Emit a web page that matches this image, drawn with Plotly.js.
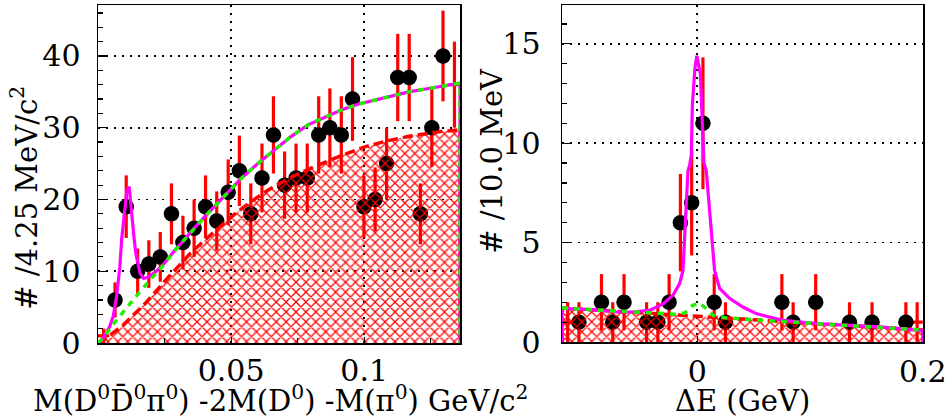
<!DOCTYPE html>
<html><head><meta charset="utf-8">
<script src="https://cdn.plot.ly/plotly-3.0.1.min.js"></script>
<style>html,body{margin:0;padding:0;background:#fff}</style>
</head><body><div id="chart" style="width:946px;height:418px"></div>
<script>
// ---------- Left panel: M(D0 D0bar pi0) - 2M(D0) - M(pi0) ----------
const massX = [0.0021,0.0064,0.0106,0.0149,0.0191,0.0234,0.0276,0.0319,0.0361,0.0404,0.0446,0.0489,0.0531,0.0574,0.0616,0.0659,
               0.0701,0.0744,0.0786,0.0829,0.0871,0.0914,0.0956,0.0999,0.1041,0.1084,0.1126,0.1169,0.1211,0.1254,0.1296,0.1339];
const massCounts = [1,6,19,10,11,12,18,14,16,19,17,21,24,18,23,29,22,23,23,29,30,29,34,19,20,25,37,37,18,30,40,36];
const massHalfBin = 0.002125;

const massTotX = [0,0.0013,0.0044,0.0057,0.0070,0.0082,0.0089,0.0101,0.0108,0.0117,0.0123,0.0129,0.0135,0.0142,0.0152,0.0158,0.0171,0.0189,0.0215,0.0240,
                  0.0284,0.0328,0.0366,0.0411,0.0455,0.0492,0.0537,0.0600,0.0663,0.0726,0.0789,0.0853,0.0916,0.0979,0.1042,0.1105,0.1168,0.1231,0.1294,0.1360,0.1360];
const massTotY = [0,0.3,2.3,3.7,6.5,10.6,14.5,18.5,21.1,21.8,19.5,16.2,14.8,12.5,10.6,9.7,9.0,9.2,9.9,10.7,
                  12.7,14.6,16.2,18.0,19.7,21.1,22.9,25.0,26.9,28.8,30.4,31.5,32.5,33.3,33.9,34.5,35.0,35.4,35.8,36.2,0];
const massGrnX = [0,0.0019,0.0070,0.0110,0.0152,0.0196,0.0240,0.0284,0.0328,0.0366,0.0411,0.0455,0.0492,0.0537,0.0600,0.0663,0.0726,0.0789,
                  0.0853,0.0916,0.0979,0.1042,0.1105,0.1168,0.1231,0.1294,0.1360,0.1360];
const massGrnY = [0,0.7,3.2,5.1,6.9,8.8,10.6,12.7,14.6,16.2,18.0,19.7,21.1,22.9,25.0,26.9,28.8,30.4,
                  31.5,32.5,33.3,33.9,34.5,35.0,35.4,35.8,36.2,0];
const massBkgX = [0,0.0013,0.0095,0.0177,0.0265,0.0347,0.0430,0.0511,0.0575,0.0638,0.0730,0.0827,0.0920,0.1008,0.1090,0.1168,0.1294,0.1360,0.1360];
const massBkgY = [0,0.2,2.5,5.5,9.2,12.5,15.3,17.9,19.7,21.3,23.2,24.8,26.2,27.4,28.2,28.8,29.5,29.7,0];

// ---------- Right panel: Delta E ----------
const deX = [-0.115,-0.105,-0.095,-0.085,-0.075,-0.065,-0.055,-0.045,-0.035,-0.025,-0.015,-0.005,0.005,0.015,0.025,0.035,
             0.045,0.055,0.065,0.075,0.085,0.095,0.105,0.115,0.125,0.135,0.145,0.155,0.165,0.175,0.185,0.195];
const deCounts = [1,1,null,2,1,2,null,1,1,2,6,7,11,2,1,null,null,null,null,2,1,null,2,null,null,1,null,1,null,null,1,1];
const deHalfBin = 0.005;

const deTotX = [-0.12,-0.12,-0.113,-0.0865,-0.0717,-0.057,-0.042,-0.030,-0.0216,-0.0157,-0.0127,-0.0113,-0.0098,-0.0083,-0.0068,-0.0053,-0.0044,
                -0.0021,-0.0004,0.0027,0.0041,0.0059,0.0080,0.0103,0.0129,0.0153,0.0198,0.0286,0.0404,0.0522,0.0759,0.1055,0.1351,0.1646,0.1971,0.2,0.2];
const deTotY = [0,1.71,1.68,1.60,1.51,1.51,1.60,1.93,2.35,2.94,3.6,5.45,7.3,8.6,8.9,9.4,11.9,
                13.8,14.4,13.5,11.5,9.0,8.6,7.05,5.3,3.6,2.7,2.2,1.76,1.43,1.09,0.93,0.84,0.75,0.59,0.59,0];
const deGrnX = [-0.12,-0.06,-0.03,-0.02,-0.011,-0.004,0.002,0.008,0.014,0.025,0.06,0.1,0.15,0.2];
const deGrnY = [1.71,1.52,1.42,1.40,1.46,1.85,1.96,1.68,1.34,1.22,1.08,0.94,0.77,0.6];
const deBkgX = [-0.12,-0.12,0.2,0.2];
const deBkgY = [0,1.71,0.6,0];

// ---------- helpers ----------
const FONT = 'DejaVu Serif';
const poissonErr = c => c.map(v => v == null ? null : Math.sqrt(v));
const inner = a => a.slice(1, -1);   // first/last bins are drawn without marker

function panelTraces(xa, ya, x, counts, halfBin, bkgX, bkgY, totX, totY, grnX, grnY) {
  return [
    { type:'scatter', mode:'markers', xaxis:xa, yaxis:ya, x:x, y:counts,
      marker:{size:1, opacity:0},
      error_y:{type:'data', array:poissonErr(counts), color:'#ff0000', thickness:3.2, width:0},
      error_x:{type:'constant', value:halfBin, color:'#ff0000', thickness:3.2, width:0},
      hoverinfo:'skip' },
    { type:'scatter', mode:'markers', xaxis:xa, yaxis:ya, x:inner(x), y:inner(counts),
      marker:{symbol:'circle', size:15.5, color:'black'} },
    { type:'scatter', mode:'lines', xaxis:xa, yaxis:ya, x:bkgX, y:bkgY,
      line:{color:'#ff0000', width:3.5, dash:'10px,5px'},
      fill:'tozeroy', fillcolor:'rgba(0,0,0,0)',
      fillpattern:{shape:'x', fgcolor:'#ff0000', bgcolor:'rgba(0,0,0,0)', size:7, solidity:0.32} },
    { type:'scatter', mode:'lines', xaxis:xa, yaxis:ya, x:totX, y:totY,
      line:{color:'#ff00ff', width:3.2} },
    { type:'scatter', mode:'lines', xaxis:xa, yaxis:ya, x:grnX, y:grnY,
      line:{color:'#22ee00', width:3.5, dash:'6px,6px'} }
  ];
}

const traces = [
  ...panelTraces('x','y', massX, massCounts, massHalfBin, massBkgX, massBkgY, massTotX, massTotY, massGrnX, massGrnY),
  ...panelTraces('x2','y2', deX, deCounts, deHalfBin, deBkgX, deBkgY, deTotX, deTotY, deGrnX, deGrnY)
];

const axBase = {
  showline:true, linecolor:'black', linewidth:1.5, mirror:true, zeroline:false,
  ticks:'inside', tickcolor:'black', tickwidth:1.2, ticklen:8,
  showgrid:true, gridcolor:'black', gridwidth:1.8, griddash:'2px,6px',
  tickfont:{family:FONT, size:30, color:'black'}, fixedrange:true, ticklabeloverflow:'allow'
};

const layout = {
  width:946, height:418, margin:{l:0,r:0,t:0,b:0},
  paper_bgcolor:'white', plot_bgcolor:'white', showlegend:false,
  font:{family:FONT, color:'black'},
  xaxis: Object.assign({}, axBase, {domain:[0.1036,0.4863], anchor:'y', range:[0,0.136],
    tickvals:[0.05,0.1], ticktext:['0.05','0.1'], ticklen:6, ticklabelstandoff:0,
    minor:{tickvals:[0.025,0.075,0.125], ticks:'inside', ticklen:5, tickcolor:'black', showgrid:false}}),
  yaxis: Object.assign({}, axBase, {domain:[0.1794,0.988], anchor:'x', range:[0,47.1],
    tickvals:[0,10,20,30,40], ticktext:['0','10','20','30','40'], ticklabelstandoff:10,
    minor:{dtick:2, ticks:'inside', ticklen:5, tickcolor:'black', showgrid:false}}),
  xaxis2: Object.assign({}, axBase, {domain:[0.5941,0.9757], anchor:'y2', range:[-0.12,0.2002],
    tickvals:[0,0.2], ticktext:['0','0.2'], ticklen:6, ticklabelstandoff:2}),
  yaxis2: Object.assign({}, axBase, {domain:[0.1818,0.988], anchor:'x2', range:[0,16.95],
    tickvals:[0,5,10,15], ticktext:['0','5','10','15'], ticklabelstandoff:14,
    minor:{dtick:1, ticks:'inside', ticklen:5, tickcolor:'black', showgrid:false}}),
  annotations:[
    {xref:'paper', yref:'paper', x:0.297, y:0.045, xanchor:'center', yanchor:'middle', showarrow:false,
     text:'M(D<sup>0</sup>D\u0304<sup>0</sup>\u03c0<sup>0</sup>) -2M(D<sup>0</sup>) -M(\u03c0<sup>0</sup>) GeV/c<sup>2</sup>',
     font:{family:FONT, size:29, color:'black'}},
    {xref:'paper', yref:'paper', x:0.7844, y:0.040, xanchor:'center', yanchor:'middle', showarrow:false,
     text:'\u0394E (GeV)', font:{family:FONT, size:29, color:'black'}},
    {xref:'paper', yref:'paper', x:0.026, y:0.526, xanchor:'center', yanchor:'middle', showarrow:false, textangle:-90,
     text:'# /4.25 MeV/c<sup>2</sup>', font:{family:FONT, size:29, color:'black'}},
    {xref:'paper', yref:'paper', x:0.520, y:0.615, xanchor:'center', yanchor:'middle', showarrow:false, textangle:-90,
     text:'# /10.0 MeV', font:{family:FONT, size:29, color:'black'}}
  ]
};

Plotly.newPlot('chart', traces, layout, {staticPlot:true, displayModeBar:false});
</script>
</body></html>
